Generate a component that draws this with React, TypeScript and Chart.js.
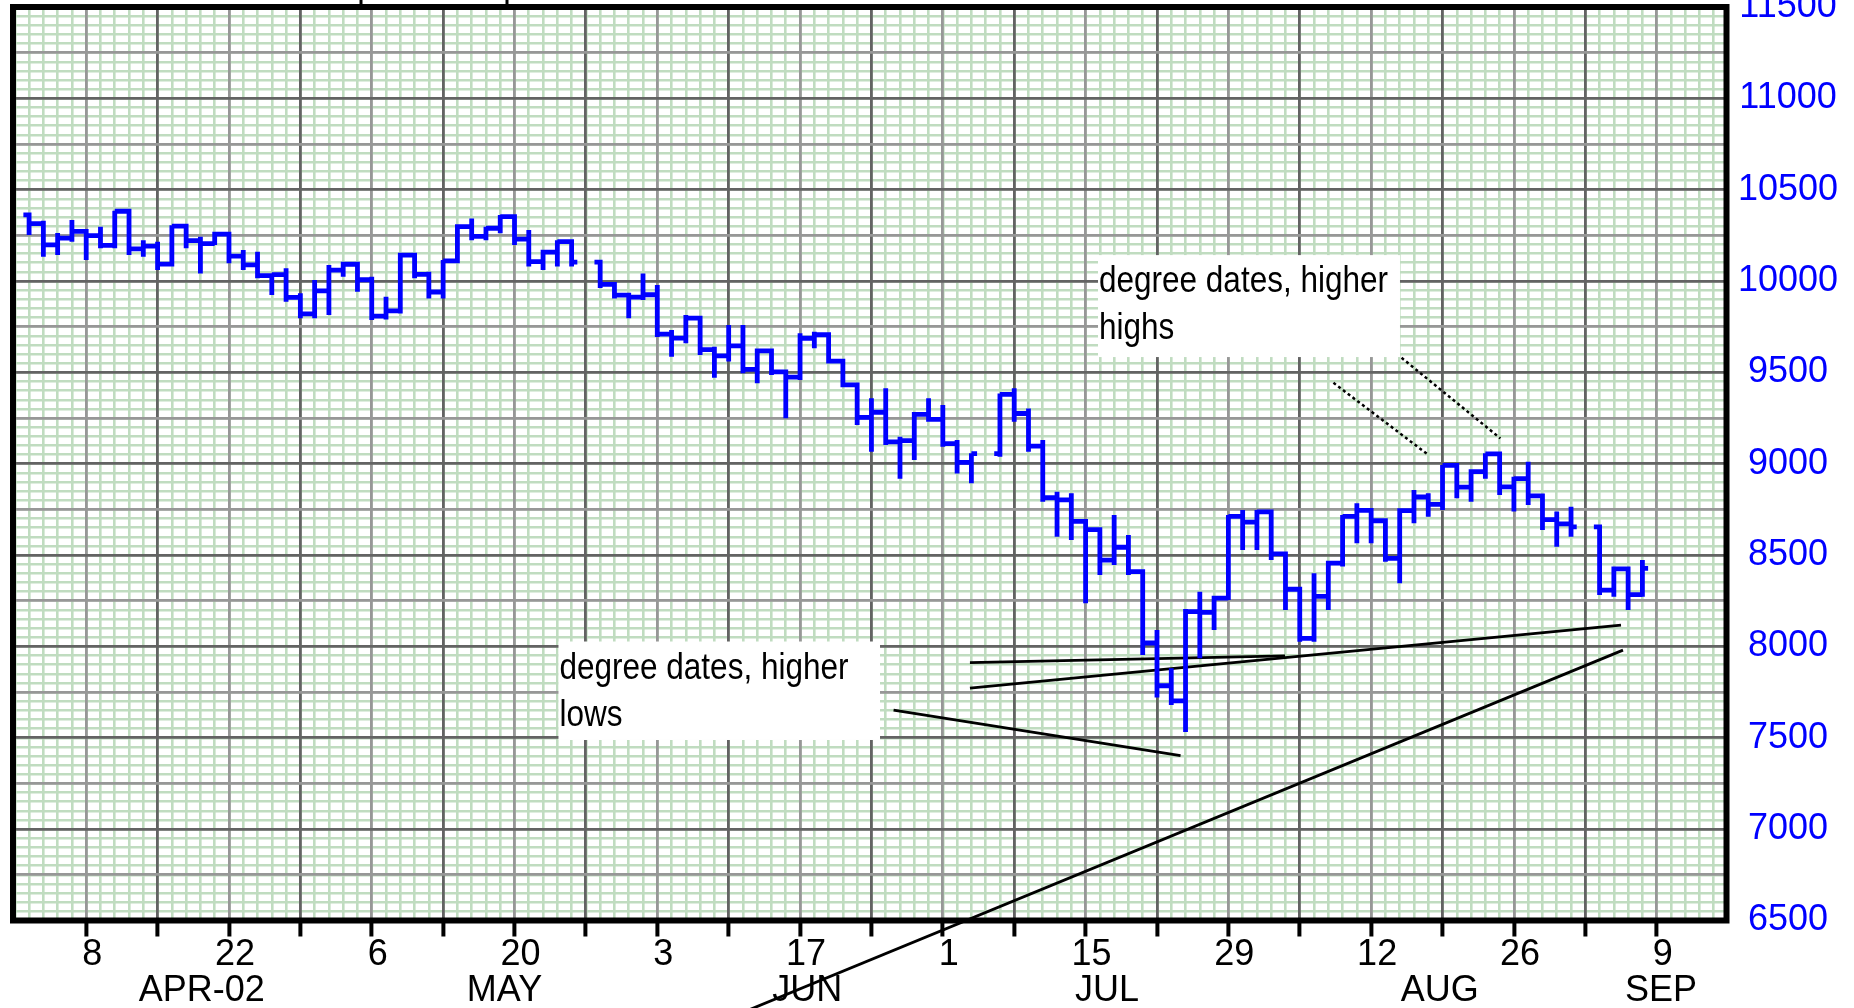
import React, { useEffect, useRef } from 'react';
import { Chart, registerables } from 'chart.js';

Chart.register(...registerables);

// ---------------- DATA ----------------
const YEAR = 2002;

// trading sessions shown (MM-DD)
const sessionDates = [
  '04-02', '04-03', '04-04', '04-05',
  '04-08', '04-09', '04-10', '04-11', '04-12',
  '04-15', '04-16', '04-17', '04-18', '04-19',
  '04-22', '04-23', '04-24', '04-25', '04-26',
  '04-29', '04-30', '05-01', '05-02', '05-03',
  '05-06', '05-07', '05-08', '05-09', '05-10',
  '05-13', '05-14', '05-15', '05-16', '05-17',
  '05-20', '05-21', '05-22', '05-23', '05-24',
  '05-28', '05-29', '05-30', '05-31',
  '06-03', '06-04', '06-05', '06-06', '06-07',
  '06-10', '06-11', '06-12', '06-13', '06-14',
  '06-17', '06-18', '06-19', '06-20', '06-21',
  '06-24', '06-25', '06-26', '06-27', '06-28',
  '07-01', '07-02', '07-03', '07-05',
  '07-08', '07-09', '07-10', '07-11', '07-12',
  '07-15', '07-16', '07-17', '07-18', '07-19',
  '07-22', '07-23', '07-24', '07-25', '07-26',
  '07-29', '07-30', '07-31', '08-01', '08-02',
  '08-05', '08-06', '08-07', '08-08', '08-09',
  '08-12', '08-13', '08-14', '08-15', '08-16',
  '08-19', '08-20', '08-21', '08-22', '08-23',
  '08-26', '08-27', '08-28', '08-29', '08-30',
  '09-03', '09-04', '09-05', '09-06',
];

const sessionHighs = [
  10361, 10330, 10263, 10334,
  10272, 10297, 10385, 10382, 10224,
  10215, 10305, 10307, 10243, 10257,
  10257, 10170, 10160, 10040, 10070,
  9933, 10006, 10088, 10106, 10106,
  10024, 9914, 10142, 10142, 10051,
  10115, 10298, 10343, 10297, 10361,
  10353, 10279, 10158, 10224, 10224,
  10104, 9982, 9933, 10042,
  9978, 9732, 9814, 9805, 9641,
  9759, 9759, 9618, 9618, 9503,
  9714, 9723, 9706, 9562, 9440,
  9358, 9413, 9148, 9270, 9358,
  9322, 9130, 9057, 9385,
  9413, 9303, 9130, 8847, 8838,
  8685, 8639, 8719, 8610, 8410,
  8090, 7880, 8205, 8300, 8264,
  8719, 8747, 8747, 8738, 8510,
  8318, 8400, 8456, 8719, 8784,
  8745, 8688, 8743, 8856, 8838,
  8993, 8991, 8957, 9057, 9057,
  8929, 9011, 8824, 8738, 8765,
  8655, 8437, 8428, 8473,
];

const sessionLows = [
  10252, 10133, 10142, 10215,
  10115, 10179, 10179, 10142, 10133,
  10060, 10079, 10179, 10042, 10197,
  10097, 10060, 10015, 9923, 9887,
  9796, 9796, 9814, 10024, 9942,
  9787, 9790, 9823, 10015, 9905,
  9905, 10097, 10224, 10224, 10261,
  10197, 10079, 10060, 10079, 10079,
  9962, 9905, 9796, 9896,
  9694, 9586, 9659, 9595, 9471,
  9559, 9495, 9440, 9486, 9249,
  9458, 9632, 9550, 9431, 9212,
  9066, 9102, 8918, 9020, 9230,
  9093, 8947, 8893, 9038,
  9230, 9066, 8792, 8601, 8583,
  8236, 8391, 8446, 8391, 7953,
  7720, 7680, 7532, 7935, 8090,
  8254, 8528, 8528, 8473, 8200,
  8026, 8026, 8200, 8437, 8565,
  8565, 8464, 8346, 8674, 8710,
  8747, 8811, 8792, 8918, 8829,
  8738, 8774, 8637, 8546, 8601,
  8281, 8272, 8200, 8272,
];

const sessionCloses = [
  10314, 10198, 10235, 10272,
  10249, 10195, 10382, 10176, 10191,
  10093, 10301, 10221, 10205, 10257,
  10136, 10089, 10030, 10035, 9911,
  9820, 9946, 10060, 10092, 10007,
  9808, 9837, 10142, 10037, 9940,
  10110, 10298, 10244, 10289, 10353,
  10230, 10106, 10158, 10216, 10104,
  9982, 9923, 9912, 9925,
  9710, 9688, 9797, 9625, 9590,
  9645, 9517, 9618, 9503, 9474,
  9687, 9706, 9562, 9432, 9254,
  9282, 9120, 9127, 9270, 9243,
  9110, 9008, 9055, 9380,
  9275, 9096, 8814, 8802, 8685,
  8639, 8473, 8543, 8410, 8019,
  7785, 7702, 8191, 8186, 8264,
  8712, 8680, 8737, 8507, 8313,
  8044, 8274, 8456, 8712, 8745,
  8688, 8482, 8743, 8818, 8778,
  8991, 8872, 8957, 9054, 8873,
  8919, 8824, 8694, 8671, 8655,
  8308, 8425, 8284, 8427,
];

const priorClose = 10362; // close before the first session (opening tick)

// x axis: weekly ticks (Mondays) and their labels
const axisTickDates = [
  '04-08', '04-15', '04-22', '04-29', '05-06', '05-13', '05-20', '05-27',
  '06-03', '06-10', '06-17', '06-24', '07-01', '07-08', '07-15', '07-22',
  '07-29', '08-05', '08-12', '08-19', '08-26', '09-02', '09-09',
];
const axisTickLabels = [
  '8', '', '22', '', '6', '', '20', '', '3', '', '17', '', '1', '', '15', '',
  '29', '', '12', '', '26', '', '9',
];
const monthLabels = ['APR-02', 'MAY', 'JUN', 'JUL', 'AUG', 'SEP'];
const monthLabelSlots = [8.1, 29.3, 50.5, 71.5, 94.8, 110.3];

// y axis
const priceAxisMin = 6500;
const priceAxisMax = 11500;
const priceMajorTicks = [6500, 7000, 7500, 8000, 8500, 9000, 9500, 10000, 10500, 11000, 11500];
const priceGridStep = 250;
const priceMinorStep = 50;

// hand-drawn trend lines (slot, value)
const trendFromSlot = [87.36, 92.13, 56.55, 61.9, 61.9, 44.0];
const trendFromValue = [9443, 9580, 7651, 7912, 7772, 5933];
const trendToSlot = [93.93, 99.05, 76.65, 83.97, 107.5, 107.64];
const trendToValue = [9053, 9139, 7402, 7948, 8117, 7980];
const trendDotted = [true, true, false, false, false, false];

// note boxes
const noteLines = [
  ['degree dates, higher', 'highs'],
  ['degree dates, higher', 'lows'],
];
const noteLeftSlot = [70.87, 33.08];
const noteRightSlot = [92.02, 55.6];
const noteTopValue = [10142, 8027];
const noteBottomValue = [9584, 7488];

// box partially visible above the plot
const headerBoxSlots = [19.25, 29.47];

// ---------------- STYLE ----------------
const FONT = '"Liberation Sans", Arial, sans-serif';
const BLUE = '#0000ff';
const GRID_DARK = '#636363';
const GRID_LIGHT = '#979797';
const PAPER_GREEN = '#c0dcc0';
const SLOT_MIN = -5.127;
const SLOT_MAX = 114.89;
const CANVAS_W = 1854;
const CANVAS_H = 1038;
const CANVAS_TOP = -30;

const BASE_UTC = Date.UTC(YEAR, 3, 8);
function slotOf(mmdd: string): number {
  const [mm, dd] = mmdd.split('-').map(Number);
  const days = Math.round((Date.UTC(YEAR, mm - 1, dd) - BASE_UTC) / 86400000);
  const weeks = Math.floor(days / 7);
  return weeks * 5 + (days - weeks * 7);
}

function buildPricePath() {
  const pts: { x: number; y: number | null }[] = [];
  let prevSlot: number | null = null;
  let prevClose = priorClose;
  sessionDates.forEach((d, i) => {
    const s = slotOf(d);
    if (prevSlot === null || s - prevSlot > 1) {
      if (prevSlot !== null) {
        pts.push({ x: prevSlot + 0.4, y: prevClose });
        pts.push({ x: prevSlot + 0.7, y: null });
      }
      pts.push({ x: s - 0.4, y: prevClose });
    }
    pts.push({ x: s, y: prevClose });
    pts.push({ x: s, y: sessionHighs[i] });
    pts.push({ x: s, y: sessionLows[i] });
    pts.push({ x: s, y: sessionCloses[i] });
    prevSlot = s;
    prevClose = sessionCloses[i];
  });
  if (prevSlot !== null) pts.push({ x: (prevSlot as number) + 0.4, y: prevClose });
  return pts;
}

const notesPlugin = {
  id: 'notesAndFrame',
  beforeDatasetsDraw(chart: any) {
    const { ctx, chartArea } = chart;
    const xs = chart.scales.x;
    const ys = chart.scales.y;
    ctx.save();
    // note boxes
    noteLines.forEach((lines, i) => {
      const l = xs.getPixelForValue(noteLeftSlot[i]);
      const r = xs.getPixelForValue(noteRightSlot[i]);
      const t = ys.getPixelForValue(noteTopValue[i]);
      const b = ys.getPixelForValue(noteBottomValue[i]);
      ctx.fillStyle = '#ffffff';
      ctx.fillRect(l, t, r - l, b - t);
      ctx.fillStyle = '#000000';
      ctx.font = '36px ' + FONT;
      ctx.textBaseline = 'alphabetic';
      ctx.textAlign = 'left';
      lines.forEach((line, j) => {
        ctx.save();
        ctx.translate(l + 1, t + 37 + j * 47);
        ctx.scale(0.875, 1);
        ctx.fillText(line, 0, 0);
        ctx.restore();
      });
    });
    // frame
    ctx.strokeStyle = '#000000';
    ctx.lineWidth = 6;
    ctx.strokeRect(chartArea.left, chartArea.top, chartArea.right - chartArea.left, chartArea.bottom - chartArea.top);
    // header box edges
    ctx.lineWidth = 3;
    headerBoxSlots.forEach((s) => {
      const px = Math.round(xs.getPixelForValue(s));
      ctx.beginPath();
      ctx.moveTo(px, 0);
      ctx.lineTo(px, chartArea.top);
      ctx.stroke();
    });
    ctx.restore();
  },
};

export default function App() {
  const canvasRef = useRef<HTMLCanvasElement | null>(null);

  useEffect(() => {
    const canvas = canvasRef.current;
    if (!canvas) return;

    const pricePath = buildPricePath();
    const tickSlots = axisTickDates.map(slotOf);

    const trendSets = trendFromSlot.map((s, i) => ({
      type: 'line' as const,
      data: [
        { x: s, y: trendFromValue[i] },
        { x: trendToSlot[i], y: trendToValue[i] },
      ],
      borderColor: '#000000',
      borderWidth: trendDotted[i] ? 2.5 : 2.8,
      borderDash: trendDotted[i] ? [3, 3] : [],
      pointRadius: 0,
      clip: false as any,
      xAxisID: 'x',
      yAxisID: 'y',
    }));

    const minorXTicks: { value: number }[] = [];
    for (let s = Math.ceil(SLOT_MIN); s <= Math.floor(SLOT_MAX); s++) minorXTicks.push({ value: s });
    const minorYTicks: { value: number }[] = [];
    for (let v = priceAxisMin; v <= priceAxisMax; v += priceMinorStep) minorYTicks.push({ value: v });
    const gridYTicks: { value: number }[] = [];
    for (let v = priceAxisMin; v <= priceAxisMax; v += priceGridStep) gridYTicks.push({ value: v });

    const chart = new Chart(canvas, {
      type: 'line',
      data: {
        datasets: [
          {
            label: 'price',
            data: pricePath as any,
            borderColor: BLUE,
            borderWidth: 4.8,
            pointRadius: 0,
            spanGaps: false,
            tension: 0,
            borderJoinStyle: 'miter',
            xAxisID: 'x',
            yAxisID: 'y',
          },
          ...trendSets,
        ] as any,
      },
      options: {
        responsive: false,
        maintainAspectRatio: false,
        animation: false,
        devicePixelRatio: 1,
        events: [],
        layout: { padding: { left: 13, top: 37, right: 0, bottom: 0 } },
        plugins: { legend: { display: false }, tooltip: { enabled: false } },
        scales: {
          xMinor: {
            type: 'linear',
            axis: 'x',
            position: 'bottom',
            weight: -5,
            min: SLOT_MIN,
            max: SLOT_MAX,
            afterBuildTicks: (axis: any) => { axis.ticks = minorXTicks.map((t) => ({ ...t })); },
            afterFit: (axis: any) => { axis.height = 0; },
            ticks: { display: false },
            grid: { color: PAPER_GREEN, lineWidth: 2.6, drawTicks: false, z: -2 },
            border: { display: false },
          },
          yMinor: {
            type: 'linear',
            axis: 'y',
            position: 'left',
            min: priceAxisMin,
            max: priceAxisMax,
            afterBuildTicks: (axis: any) => { axis.ticks = minorYTicks.map((t) => ({ ...t })); },
            afterFit: (axis: any) => { axis.width = 0; },
            ticks: { display: false },
            grid: { color: PAPER_GREEN, lineWidth: 2.6, drawTicks: false, z: -2 },
            border: { display: false },
          },
          x: {
            type: 'linear',
            axis: 'x',
            position: 'bottom',
            weight: 0,
            min: SLOT_MIN,
            max: SLOT_MAX,
            afterBuildTicks: (axis: any) => { axis.ticks = tickSlots.map((v) => ({ value: v })); },
            afterFit: (axis: any) => { axis.height = 52.5; },
            ticks: {
              autoSkip: false,
              maxRotation: 0,
              minRotation: 0,
              color: '#000000',
              font: { family: FONT, size: 36, lineHeight: 1 },
              padding: 0.5,
              labelOffset: 6,
              callback: (_v: any, i: number) => axisTickLabels[i],
            },
            grid: {
              color: (c: any) => (c.tick && axisTickLabels[c.index] !== '' ? GRID_LIGHT : GRID_DARK),
              lineWidth: 2.8,
              drawTicks: true,
              tickLength: 16,
              tickWidth: 4,
              tickColor: '#000000',
            },
            border: { display: false },
          },
          xMonth: {
            type: 'linear',
            axis: 'x',
            position: 'bottom',
            weight: 1,
            min: SLOT_MIN,
            max: SLOT_MAX,
            afterBuildTicks: (axis: any) => { axis.ticks = monthLabelSlots.map((v) => ({ value: v })); },
            afterFit: (axis: any) => { axis.height = CANVAS_H - 950.5 - 52.5; },
            ticks: {
              autoSkip: false,
              maxRotation: 0,
              minRotation: 0,
              color: '#000000',
              font: { family: FONT, size: 36, lineHeight: 1 },
              padding: 0,
              callback: (_v: any, i: number) => monthLabels[i],
            },
            grid: { display: false, drawTicks: false },
            border: { display: false },
          },
          y: {
            type: 'linear',
            axis: 'y',
            position: 'right',
            min: priceAxisMin,
            max: priceAxisMax,
            afterBuildTicks: (axis: any) => { axis.ticks = gridYTicks.map((t) => ({ ...t })); },
            afterFit: (axis: any) => { axis.width = CANVAS_W - 1726.5; },
            ticks: {
              autoSkip: false,
              color: BLUE,
              font: { family: FONT, size: 36, lineHeight: 1 },
              padding: 11.5,
              crossAlign: 'center',
              callback: (v: any) => (priceMajorTicks.includes(Number(v)) ? String(v) : ''),
            },
            grid: {
              color: (c: any) => (c.tick && priceMajorTicks.includes(c.tick.value) ? GRID_DARK : GRID_LIGHT),
              lineWidth: 2.8,
              drawTicks: false,
            },
            border: { display: false },
          },
        } as any,
      },
      plugins: [notesPlugin],
    });

    return () => chart.destroy();
  }, []);

  return (
    <div
      style={{
        position: 'fixed',
        left: 0,
        top: CANVAS_TOP,
        width: CANVAS_W,
        height: CANVAS_H,
        background: '#ffffff',
      }}
    >
      <canvas
        ref={canvasRef}
        width={CANVAS_W}
        height={CANVAS_H}
        style={{ display: 'block', width: CANVAS_W, height: CANVAS_H }}
      />
    </div>
  );
}
